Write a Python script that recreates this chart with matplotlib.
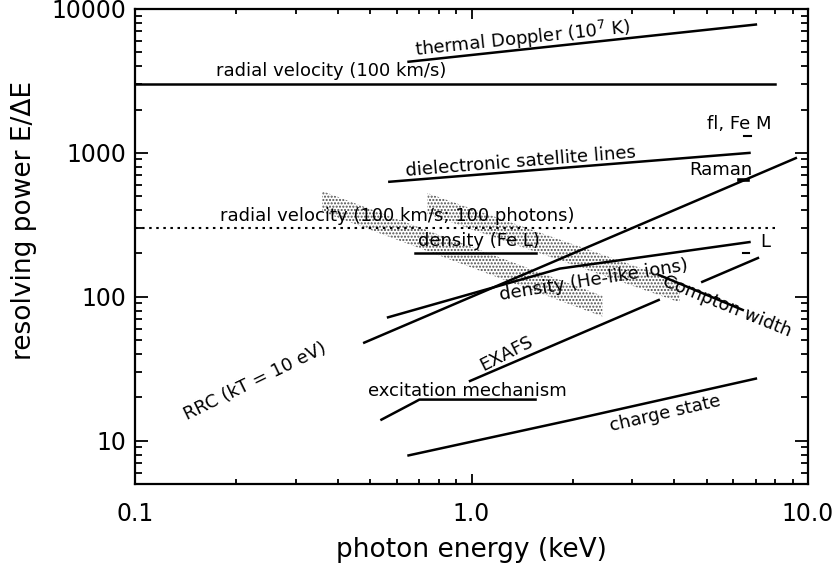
import numpy as np
import matplotlib
matplotlib.use("Agg")
import matplotlib.pyplot as plt
from matplotlib.ticker import FixedLocator, FixedFormatter, LogLocator, NullFormatter

plt.rcParams['font.family'] = ['DejaVu Sans']
plt.rcParams['hatch.linewidth'] = 1.0

# ---- resolving-power requirements vs photon energy (keV) ----
rv_x = [0.1, 8.0]                 # radial velocity, 100 km/s
rv_y = [3000, 3000]
rv100_x = [0.1, 8.0]              # radial velocity, 100 km/s with 100 photons
rv100_y = [300, 300]
thermal_x = [0.65, 7.0]           # thermal Doppler, 1e7 K
thermal_y = [4300, 7800]
diel_x = [0.57, 6.7]              # dielectronic satellite lines
diel_y = [630, 1000]
rrc_x = [0.48, 9.2]               # RRC, kT = 10 eV
rrc_y = [48, 920]
fel_x = [0.68, 1.55]              # density, Fe L
fel_y = [200, 200]
helike_x = [0.565, 1.83, 6.7]     # density, He-like ions
helike_y = [72, 157, 240]
compton_x = [3.6, 6.4]            # Compton width
compton_y = [142, 81]
exafs_x = [0.99, 3.6, np.nan, 4.85, 7.1]   # EXAFS (broken under the Compton label)
exafs_y = [26, 95, np.nan, 127, 186]
excit_x = [0.54, 0.68, 0.70, 1.55]          # excitation mechanism
excit_y = [14, 18.6, 19.3, 19.3]
charge_x = [0.65, 2.0, 7.0]       # charge state
charge_y = [7.9, 14, 27]

# short markers: fluorescence line Fe M, Raman, Fe L
mark_x = [[6.45, 6.75], [6.25, 6.65], [6.4, 6.7]]
mark_y = [1300, 650, 200]

# stippled density bands (start/end energy, centre value, half-thickness factor)
band_x = [[0.36, 2.45], [0.74, 4.15]]
band_y = [[460, 86], [445, 108]]
band_f = 1.18

xticks = [0.1, 1.0, 10.0]
xticklabels = ['0.1', '1.0', '10.0']
yticks = [10, 100, 1000, 10000]
yticklabels = ['10', '100', '1000', '10000']

fig = plt.figure(figsize=(8.39, 5.64), dpi=100)
ax = fig.add_axes([135/839, 80/564, 673/839, 475/564])
ax.set_xscale('log')
ax.set_yscale('log')
ax.set_xlim(0.1, 10.0)
ax.set_ylim(5, 10000)

for bx, by in zip(band_x, band_y):
    lo = [v / band_f for v in by]
    hi = [v * band_f for v in by]
    ax.fill_between(bx, lo, hi, facecolor='none', edgecolor='0.3',
                    hatch='.....', linewidth=0, zorder=1)

lw = 1.8
k = 'black'
ax.plot(rv_x, rv_y, color=k, lw=lw)
ax.plot(rv100_x, rv100_y, color=k, lw=1.5, linestyle=(0, (1.2, 2.2)))
ax.plot(thermal_x, thermal_y, color=k, lw=lw)
ax.plot(diel_x, diel_y, color=k, lw=lw)
ax.plot(rrc_x, rrc_y, color=k, lw=lw)
ax.plot(fel_x, fel_y, color=k, lw=lw)
ax.plot(helike_x, helike_y, color=k, lw=lw)
ax.plot(compton_x, compton_y, color=k, lw=lw)
ax.plot(exafs_x, exafs_y, color=k, lw=lw)
ax.plot(excit_x, excit_y, color=k, lw=lw)
ax.plot(charge_x, charge_y, color=k, lw=lw)
for mx, my, w in zip(mark_x, mark_y, [1.5, 2.6, 1.5]):
    ax.plot(mx, [my, my], color=k, lw=w)

fs = 13
txt = dict(fontsize=fs, ha='center', va='center', rotation_mode='anchor', zorder=3)
ax.text(1.42, 6250, r'thermal Doppler (10$^7$ K)', rotation=6, **txt)
ax.text(0.382, 3680, 'radial velocity (100 km/s)', **txt)
ax.text(6.24, 1578, 'fl, Fe M', **txt)
ax.text(1.40, 870, 'dielectronic satellite lines', rotation=4.6, **txt)
ax.text(5.51, 766, 'Raman', **txt)
ax.text(0.601, 362, 'radial velocity (100 km/s; 100 photons)', **txt)
ax.text(1.05, 243, 'density (Fe L)', **txt)
ax.text(7.45, 241, 'L', **txt)
ax.text(2.31, 131, 'density (He-like ions)', rotation=9, **txt)
ax.text(5.74, 86, 'Compton width', rotation=-22, **txt)
ax.text(1.27, 40.4, 'EXAFS', rotation=27, **txt)
ax.text(0.97, 22.3, 'excitation mechanism', **txt)
ax.text(0.227, 25.8, 'RRC (kT = 10 eV)', rotation=26, **txt)
ax.text(3.76, 15.4, 'charge state', rotation=13, **txt)

ax.xaxis.set_major_locator(FixedLocator(xticks))
ax.xaxis.set_major_formatter(FixedFormatter(xticklabels))
ax.yaxis.set_major_locator(FixedLocator(yticks))
ax.yaxis.set_major_formatter(FixedFormatter(yticklabels))
ax.xaxis.set_minor_locator(LogLocator(base=10, subs=np.arange(2, 10)))
ax.yaxis.set_minor_locator(LogLocator(base=10, subs=np.arange(2, 10)))
ax.xaxis.set_minor_formatter(NullFormatter())
ax.yaxis.set_minor_formatter(NullFormatter())

ax.tick_params(which='both', direction='in', top=True, right=True, width=1.3)
ax.tick_params(axis='x', which='major', length=7.5, labelsize=17, pad=13)
ax.tick_params(axis='x', which='minor', length=3.5)
ax.tick_params(axis='y', which='major', length=9.5, labelsize=17, pad=6)
ax.tick_params(axis='y', which='minor', length=5)
for s in ax.spines.values():
    s.set_linewidth(1.6)

ax.set_xlabel('photon energy (keV)', fontsize=19, labelpad=8)
ax.set_ylabel('resolving power E/\u0394E', fontsize=19)
ax.yaxis.set_label_coords(-0.146, 0.554)

fig.savefig('out.png', dpi=100)
